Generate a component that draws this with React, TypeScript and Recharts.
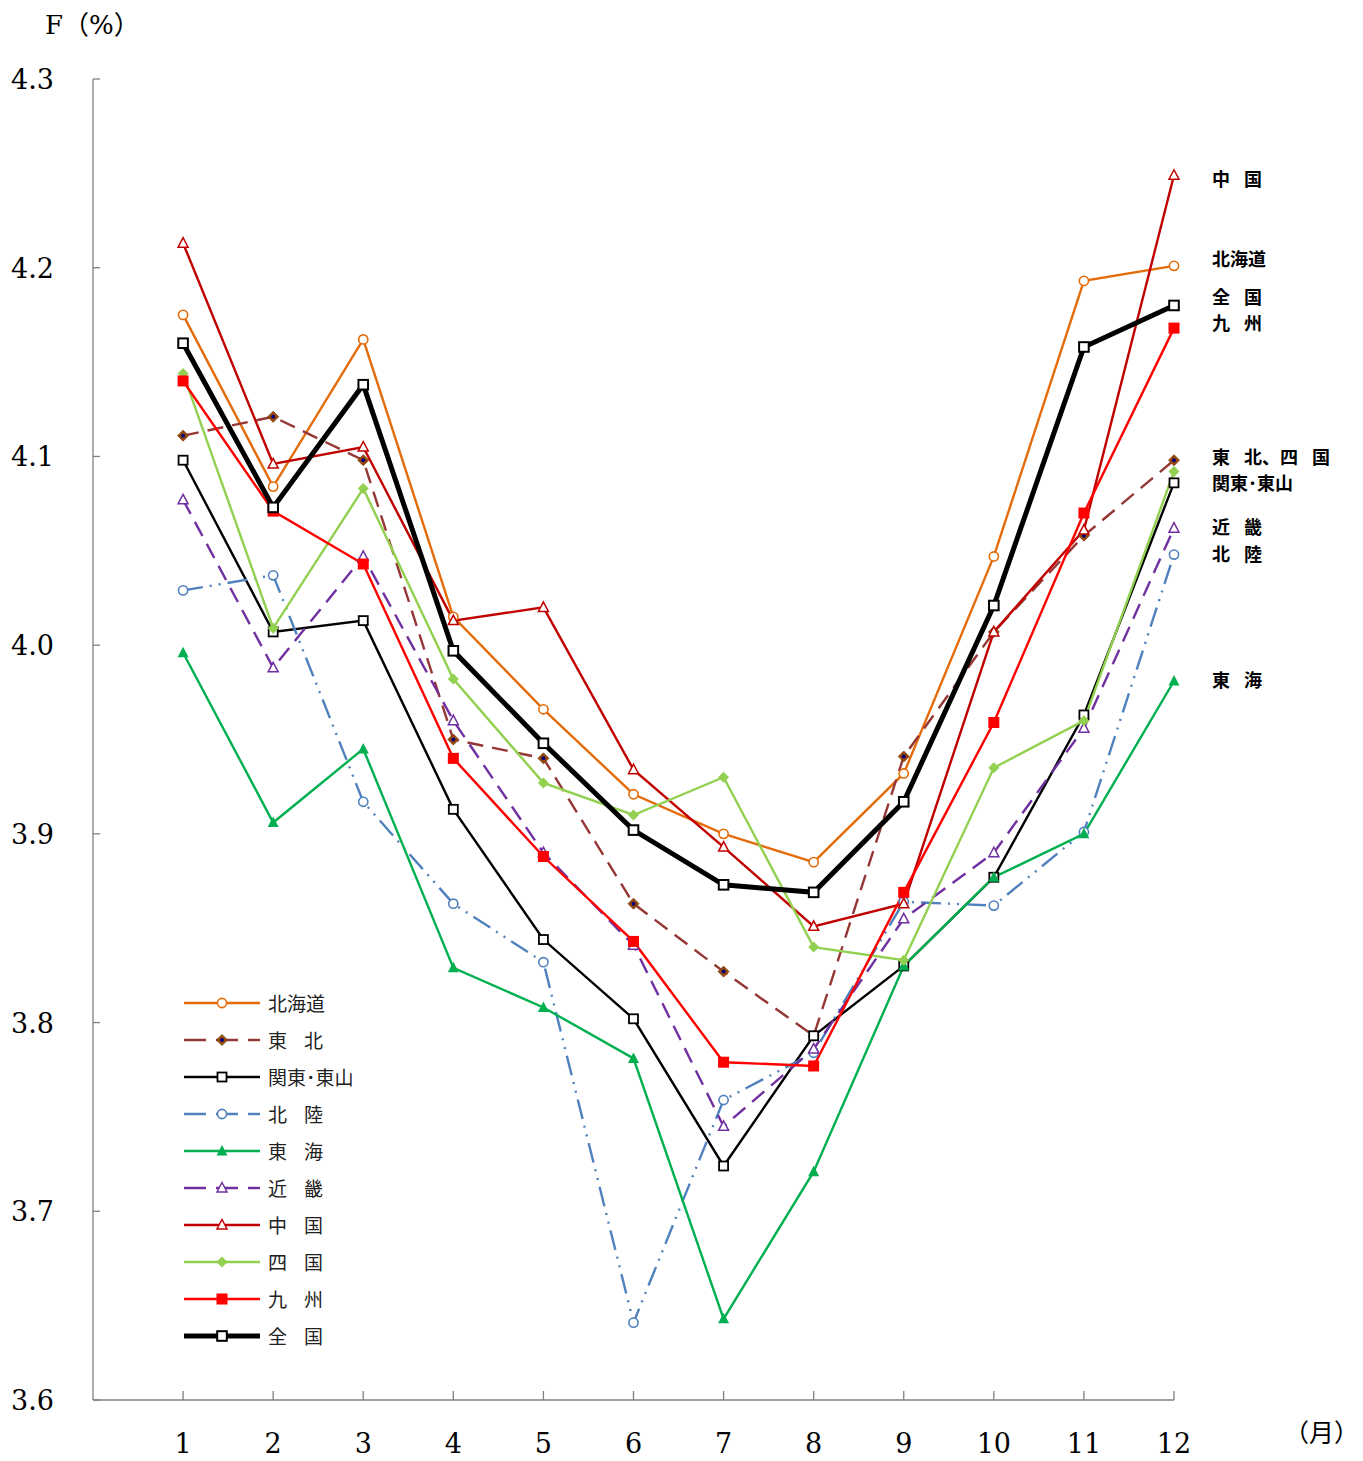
import React from "react";
import { LineChart, Line, XAxis, YAxis } from "recharts";

const months = [1, 2, 3, 4, 5, 6, 7, 8, 9, 10, 11, 12];
const yTicks = [3.6, 3.7, 3.8, 3.9, 4.0, 4.1, 4.2, 4.3];

const hokkaido = [4.175, 4.084, 4.162, 4.015, 3.966, 3.921, 3.900, 3.885, 3.932, 4.047, 4.193, 4.201];
const tohoku = [4.111, 4.121, 4.098, 3.950, 3.940, 3.863, 3.827, 3.793, 3.941, 4.007, 4.058, 4.098];
const kantoTosan = [4.098, 4.007, 4.013, 3.913, 3.844, 3.802, 3.724, 3.793, 3.830, 3.877, 3.963, 4.086];
const hokuriku = [4.029, 4.037, 3.917, 3.863, 3.832, 3.641, 3.759, 3.784, 3.864, 3.862, 3.901, 4.048];
const tokai = [3.996, 3.906, 3.945, 3.829, 3.808, 3.781, 3.643, 3.721, 3.830, 3.877, 3.900, 3.981];
const kinki = [4.077, 3.988, 4.047, 3.960, 3.890, 3.841, 3.745, 3.786, 3.855, 3.890, 3.956, 4.062];
const chugoku = [4.213, 4.096, 4.105, 4.013, 4.020, 3.934, 3.893, 3.851, 3.863, 4.007, 4.061, 4.249];
const shikoku = [4.144, 4.009, 4.083, 3.982, 3.927, 3.910, 3.930, 3.840, 3.833, 3.935, 3.960, 4.092];
const kyushu = [4.140, 4.071, 4.043, 3.940, 3.888, 3.843, 3.779, 3.777, 3.869, 3.959, 4.070, 4.168];
const zenkoku = [4.160, 4.073, 4.138, 3.997, 3.948, 3.902, 3.873, 3.869, 3.917, 4.021, 4.158, 4.180];

const seriesNames = ["北海道", "東　北", "関東･東山", "北　陸", "東　海", "近　畿", "中　国", "四　国", "九　州", "全　国"];
const seriesValues = [hokkaido, tohoku, kantoTosan, hokuriku, tokai, kinki, chugoku, shikoku, kyushu, zenkoku];

const sideLabels = ["中　国", "北海道", "全　国", "九　州", "東　北、四　国", "関東･東山", "近　畿", "北　陸", "東　海"];

type Style = { key: string; color: string; width: number; dash?: string; marker: string; };
const styles: Style[] = [
  { key: "s0", color: "#E46C0A", width: 2.4, marker: "circle" },
  { key: "s1", color: "#953735", width: 2.4, dash: "16 9", marker: "diamondT" },
  { key: "s2", color: "#000000", width: 2.4, marker: "squareOpen" },
  { key: "s3", color: "#4F81BD", width: 2.4, dash: "20 7 2 7 2 7", marker: "circle" },
  { key: "s4", color: "#00B050", width: 2.4, marker: "triFill" },
  { key: "s5", color: "#7030A0", width: 2.4, dash: "16 9", marker: "triOpen" },
  { key: "s6", color: "#C00000", width: 2.4, marker: "triOpen" },
  { key: "s7", color: "#92D050", width: 2.4, marker: "diamondFill" },
  { key: "s8", color: "#FF0000", width: 2.4, marker: "squareFill" },
  { key: "s9", color: "#000000", width: 5, marker: "squareOpenBig" },
];
const sideLabelY = [178, 258, 296, 322, 456, 482, 526, 553, 679];

const data = months.map((m, i) => {
  const row: Record<string, number> = { month: m };
  seriesValues.forEach((vals, j) => { row[styles[j].key] = vals[i]; });
  return row;
});

function Marker({ kind, cx, cy, color }: { kind: string; cx: number; cy: number; color: string }) {
  switch (kind) {
    case "circle":
      return <circle cx={cx} cy={cy} r={4.6} fill="#fff" stroke={color} strokeWidth={1.6} />;
    case "squareOpen":
      return <rect x={cx - 4.5} y={cy - 4.5} width={9} height={9} fill="#fff" stroke={color} strokeWidth={1.8} />;
    case "squareOpenBig":
      return <rect x={cx - 4.8} y={cy - 4.8} width={9.6} height={9.6} fill="#fff" stroke={color} strokeWidth={2} />;
    case "squareFill":
      return <rect x={cx - 5.5} y={cy - 5.5} width={11} height={11} fill={color} />;
    case "triOpen":
      return <polygon points={`${cx},${cy - 5.5} ${cx - 5},${cy + 4} ${cx + 5},${cy + 4}`} fill="#fff" stroke={color} strokeWidth={1.5} />;
    case "triFill":
      return <polygon points={`${cx},${cy - 6} ${cx - 5.5},${cy + 4.5} ${cx + 5.5},${cy + 4.5}`} fill={color} />;
    case "diamondFill":
      return <polygon points={`${cx},${cy - 5.5} ${cx + 5.5},${cy} ${cx},${cy + 5.5} ${cx - 5.5},${cy}`} fill={color} />;
    case "diamondT":
      return (
        <g>
          <polygon points={`${cx},${cy - 5.5} ${cx + 5.5},${cy} ${cx},${cy + 5.5} ${cx - 5.5},${cy}`} fill="#984807" stroke="#7a3b10" strokeWidth={0.8} />
          <circle cx={cx} cy={cy} r={2} fill="#000080" />
        </g>
      );
    default:
      return null;
  }
}

function Spaced({ text, gap }: { text: string; gap: number }) {
  const parts = text.split("　");
  return (
    <>
      {parts.map((p, i) => (
        <React.Fragment key={i}>
          {i > 0 && <span style={{ display: "inline-block", width: gap }} />}
          {p}
        </React.Fragment>
      ))}
    </>
  );
}

const serif = '"DejaVu Serif", "Noto Sans CJK JP", serif';
const gothic = '"Noto Sans CJK JP", sans-serif';

function XTick(props: any) {
  const { x, y, payload } = props;
  return (
    <g>
      <line x1={x} x2={x} y1={y} y2={y - 9} stroke="#808080" strokeWidth={1.3} />
      <text x={x} y={y + 53} textAnchor="middle" fontFamily={serif} fontSize={27} fill="#000">{payload.value}</text>
    </g>
  );
}

function YTick(props: any) {
  const { x, y, payload } = props;
  return (
    <g>
      <line x1={x} x2={x + 7} y1={y} y2={y} stroke="#808080" strokeWidth={1.3} />
      <text x={x - 39} y={y + 10} textAnchor="end" fontFamily={serif} fontSize={27} fill="#000">{Number(payload.value).toFixed(1)}</text>
    </g>
  );
}

export default function App() {
  return (
    <div style={{ position: "absolute", left: 0, top: 0, width: 1363, height: 1461, background: "#fff" }}>
      <LineChart width={1363} height={1461} data={data} margin={{ top: 79, right: 189, bottom: 0, left: 0 }}>
        <XAxis dataKey="month" type="number" domain={[0, 12]} ticks={months} interval={0} height={61}
          tickSize={0} tickMargin={0} tickLine={false} axisLine={{ stroke: "#808080", strokeWidth: 1.3 }} tick={<XTick />} />
        <YAxis type="number" domain={[3.6, 4.3]} ticks={yTicks} interval={0} width={93}
          tickSize={0} tickMargin={0} tickLine={false} axisLine={{ stroke: "#808080", strokeWidth: 1.3 }} tick={<YTick />} />
        {styles.map((s) => (
          <Line key={s.key} dataKey={s.key} type="linear" stroke={s.color} strokeWidth={s.width}
            strokeDasharray={s.dash} isAnimationActive={false}
            dot={(p: any) => <Marker key={`${s.key}-${p.index}`} kind={s.marker} cx={p.cx} cy={p.cy} color={s.color} />}
            activeDot={false} />
        ))}
      </LineChart>

      <div style={{ position: "absolute", left: 45, top: 4, fontFamily: serif, fontSize: 26, color: "#000", whiteSpace: "nowrap" }}>F（%）</div>
      <div style={{ position: "absolute", left: 1284, top: 1413, fontFamily: serif, fontSize: 25, color: "#000", whiteSpace: "nowrap" }}>（月）</div>

      {sideLabels.map((t, i) => (
        <div key={i} style={{ position: "absolute", left: 1212, top: sideLabelY[i] - 13, fontFamily: gothic, fontWeight: 700, fontSize: 18, lineHeight: "26px", color: "#000", whiteSpace: "nowrap" }}>
          <Spaced text={t} gap={14} />
        </div>
      ))}

      <svg style={{ position: "absolute", left: 0, top: 0, pointerEvents: "none" }} width={1363} height={1461}>
        {styles.map((s, i) => {
          const cy = 1003 + i * 37;
          return (
            <g key={s.key}>
              <line x1={184} x2={260} y1={cy} y2={cy} stroke={s.color} strokeWidth={s.width} strokeDasharray={s.dash ? "22 10" : undefined} />
              <Marker kind={s.marker} cx={222} cy={cy} color={s.color} />
            </g>
          );
        })}
      </svg>
      {seriesNames.map((n, i) => (
        <div key={n} style={{ position: "absolute", left: 268, top: 1003 + i * 37 - 14, fontFamily: gothic, fontSize: 19, lineHeight: "28px", color: "#222", whiteSpace: "nowrap" }}>
          <Spaced text={n} gap={17} />
        </div>
      ))}
    </div>
  );
}
